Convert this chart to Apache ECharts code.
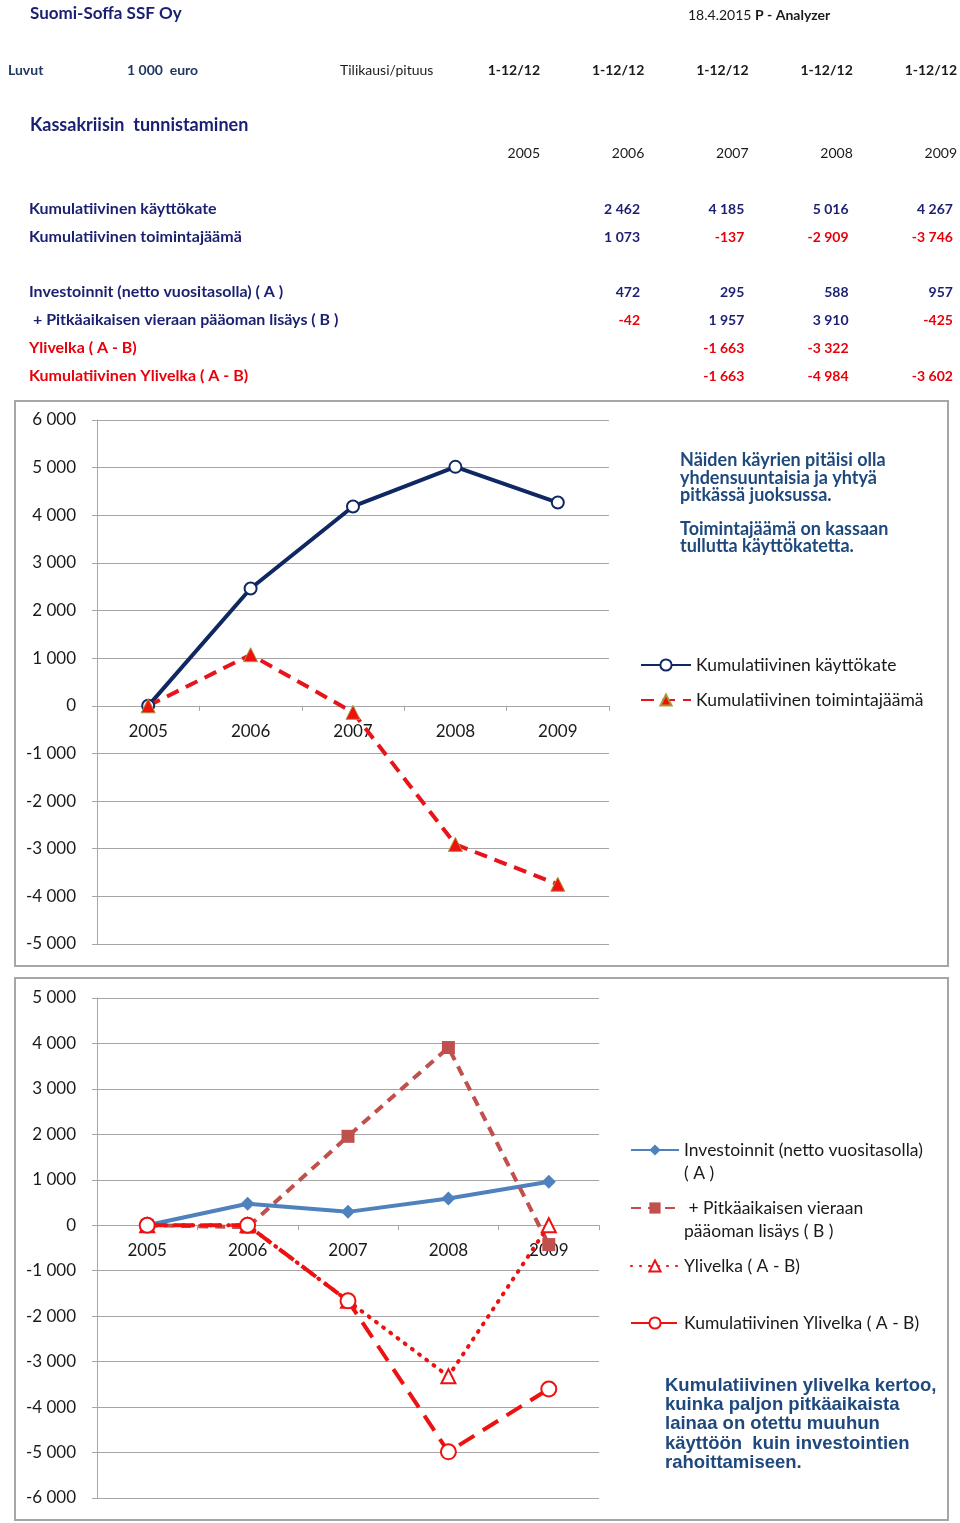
<!DOCTYPE html>
<html>
<head>
<meta charset="utf-8">
<script src="https://cdn.jsdelivr.net/npm/echarts@6/dist/echarts.min.js"></script>
<style>
html,body{margin:0;padding:0;background:#fff;}
#chart{width:960px;height:1523px;}
</style>
</head>
<body>
<div id="chart"></div>
<script>
// ---- data ----
const years = ['2005', '2006', '2007', '2008', '2009'];
const periods = ['1-12/12', '1-12/12', '1-12/12', '1-12/12', '1-12/12'];
const kayttokate = [0, 2462, 4185, 5016, 4267];
const toimintajaama = [0, 1073, -137, -2909, -3746];
const investoinnit = [0, 472, 295, 588, 957];
const pitkaaikainen = [0, -42, 1957, 3910, -425];
const ylivelka = [0, 0, -1663, -3322, 0];
const kumYlivelka = [0, 0, -1663, -4984, -3602];
const yTicks1 = [-5000, 6000, 1000];
const yTicks2 = [-6000, 5000, 1000];

const N1 = 'Kumulatiivinen käyttökate';
const N2 = 'Kumulatiivinen toimintajäämä';
const N3 = 'Investoinnit (netto vuositasolla) ( A )';
const N4 = ' + Pitkäaikaisen vieraan pääoman lisäys ( B )';
const N5 = 'Ylivelka ( A - B)';
const N6 = 'Kumulatiivinen Ylivelka ( A - B)';

const NAVY = '#1a1f71';
const RED = '#e8000b';
const NOTE = '#1f497d';
const GRAY = '#a6a6a6';
const FONT = 'Lato, "Open Sans", sans-serif';

function fmt(v) {
  const s = Math.abs(v).toString().replace(/\B(?=(\d{3})+(?!\d))/g, ' ');
  return (v < 0 ? '-' : '') + s;
}

const chart = echarts.init(document.getElementById('chart'), null, {renderer: 'canvas'});

// ---- header / table as graphic text ----
const g = [];
function txt(x, y, text, opt) {
  g.push({
    type: 'text', x: x, y: y, silent: true,
    style: Object.assign({text: text, fontFamily: FONT, fontSize: 14, fill: '#1a1a1a',
      verticalAlign: 'middle', align: 'left'}, opt || {})
  });
}
txt(30, 14, 'Suomi-Soffa SSF Oy', {fontSize: 17, fontWeight: 'bold', fill: NAVY});
txt(688, 15, '{a|18.4.2015} {b|P - Analyzer}', {
  rich: {a: {fontFamily: FONT, fontSize: 14, fill: '#1a1a1a'},
         b: {fontFamily: FONT, fontSize: 14, fontWeight: 'bold', fill: '#1a1a1a'}}
});
txt(8, 70, 'Luvut', {fontWeight: 'bold', fill: '#203864'});
txt(127, 70, '1 000  euro', {fontWeight: 'bold', fill: '#203864'});
txt(340, 70, 'Tilikausi/pituus', {fill: '#1a1a1a'});
periods.forEach((p, i) => txt(540 + i * 104.25, 70, p, {align: 'right', fontWeight: 'bold'}));
txt(30, 125, 'Kassakriisin  tunnistaminen', {fontSize: 18, fontWeight: 'bold', fill: NAVY});
years.forEach((y, i) => txt(540 + i * 104.25, 153, y, {align: 'right'}));

const rows = [
  [N1, kayttokate, 209, NAVY],
  [N2, toimintajaama, 237, NAVY],
  [N3, investoinnit, 292, NAVY],
  [N4, pitkaaikainen, 320, NAVY],
  [N5, ylivelka, 348, RED],
  [N6, kumYlivelka, 376, RED]
];
rows.forEach(r => {
  const label = r[0].replace(/^ \+ /, '+ ');
  txt(label === r[0] ? 29 : 33, r[2], label, {fontSize: 16, fontWeight: 'bold', fill: r[3]});
  for (let i = 1; i < r[1].length; i++) {
    const v = r[1][i];
    if (v === 0) continue;
    txt(640 + (i - 1) * 104.3, r[2], fmt(v), {align: 'right', fontWeight: 'bold', fill: v < 0 ? RED : NAVY});
  }
});

// chart boxes
g.push({type: 'rect', z: -10, silent: true, shape: {x: 15, y: 401, width: 933, height: 565},
  style: {fill: 'none', stroke: GRAY, lineWidth: 2}});
g.push({type: 'rect', z: -10, silent: true, shape: {x: 15, y: 978, width: 933, height: 542},
  style: {fill: 'none', stroke: GRAY, lineWidth: 2}});

// notes
g.push({type: 'text', x: 680, y: 452, silent: true, style: {
  text: 'Näiden käyrien pitäisi olla\nyhdensuuntaisia ja yhtyä\npitkässä juoksussa.\n\nToimintajäämä on kassaan\ntullutta käyttökatetta.',
  fontFamily: FONT, fontSize: 18, fontWeight: 'bold', fill: NOTE, lineHeight: 17.2, verticalAlign: 'top'}});
g.push({type: 'text', x: 665, y: 1376, silent: true, style: {
  text: 'Kumulatiivinen ylivelka kertoo,\nkuinka paljon pitkäaikaista\nlainaa on otettu muuhun\nkäyttöön  kuin investointien\nrahoittamiseen.',
  fontFamily: '"Liberation Sans", Arial, sans-serif', fontSize: 18.5, fontWeight: 'bold', fill: NOTE,
  lineHeight: 19.3, verticalAlign: 'top'}});

// ---- axes ----
const grids = [
  {left: 97, top: 420, width: 512, height: 524},
  {left: 97, top: 998, width: 502, height: 500}
];
function xAx(gi, t) {
  // place the category axis on the zero line of its value axis
  const zeroFromBottom = grids[gi].height * (0 - t[0]) / (t[1] - t[0]);
  return {
    type: 'category', gridIndex: gi, data: years, boundaryGap: true,
    position: 'bottom', offset: -zeroFromBottom,
    axisLine: {onZero: false, lineStyle: {color: GRAY, width: 1}},
    axisTick: {show: true, length: 5, lineStyle: {color: GRAY}},
    axisLabel: {fontFamily: FONT, fontSize: 17, color: '#1a1a1a', margin: 17},
    splitLine: {show: false}
  };
}
function yAx(gi, t) {
  return {
    type: 'value', gridIndex: gi, min: t[0], max: t[1], interval: t[2],
    axisLine: {show: true, lineStyle: {color: GRAY, width: 1}},
    axisTick: {show: true, length: 5, lineStyle: {color: GRAY}},
    axisLabel: {fontFamily: FONT, fontSize: 17, color: '#1a1a1a', margin: 21, formatter: v => fmt(v)},
    splitLine: {show: true, lineStyle: {color: GRAY, width: 1}}
  };
}

// two-line legend entries get an empty first line so the icon lines up with the first text line
const legTxt = {};
legTxt[N3] = '\nInvestoinnit (netto vuositasolla)\n( A )';
legTxt[N4] = '\n + Pitkäaikaisen vieraan\npääoman lisäys ( B )';
function leg(name, left, top, w) {
  return {
    data: [name], left: left, top: top, orient: 'vertical', padding: 0,
    itemWidth: w, itemHeight: 14, selectedMode: false,
    formatter: n => legTxt[n] || n,
    textStyle: {fontFamily: FONT, fontSize: 17.5, color: '#1a1a1a', lineHeight: 23}
  };
}

const option = {
  animation: false,
  backgroundColor: '#fff',
  graphic: g,
  grid: grids,
  xAxis: [xAx(0, yTicks1), xAx(1, yTicks2)],
  yAxis: [yAx(0, yTicks1), yAx(1, yTicks2)],
  legend: [
    leg(N1, 640, 653.5, 50),
    leg(N2, 640, 688.5, 50),
    leg(N3, 630, 1115.5, 48),
    leg(N4, 630, 1173.5, 48),
    leg(N5, 630, 1254.5, 48),
    leg(N6, 630, 1311.5, 48)
  ],
  series: [
    {name: N1, type: 'line', xAxisIndex: 0, yAxisIndex: 0, data: kayttokate,
      color: '#0f2862', symbol: 'emptyCircle', symbolSize: 12,
      itemStyle: {color: '#0f2862', borderWidth: 1.6},
      lineStyle: {color: '#0f2862', width: 4}},
    {name: N2, type: 'line', xAxisIndex: 0, yAxisIndex: 0, data: toimintajaama,
      color: '#e8141b', symbol: 'triangle', symbolSize: 14,
      itemStyle: {color: '#f01010', borderColor: '#a89a3a', borderWidth: 1},
      lineStyle: {color: '#e8141b', width: 4, type: [13, 8]}},
    {name: N3, type: 'line', xAxisIndex: 1, yAxisIndex: 1, data: investoinnit,
      color: '#4f81bd', symbol: 'diamond', symbolSize: 14,
      itemStyle: {color: '#4f81bd'},
      lineStyle: {color: '#4f81bd', width: 4}},
    {name: N4, type: 'line', xAxisIndex: 1, yAxisIndex: 1, data: pitkaaikainen,
      color: '#c0504d', symbol: 'rect', symbolSize: 13,
      itemStyle: {color: '#c0504d'},
      lineStyle: {color: '#c0504d', width: 4, type: [10, 7]}},
    {name: N5, type: 'line', xAxisIndex: 1, yAxisIndex: 1, data: ylivelka,
      color: '#ee1111', symbol: 'emptyTriangle', symbolSize: 14,
      itemStyle: {color: '#ee1111', borderWidth: 1.5},
      lineStyle: {color: '#ee1111', width: 4, type: [1, 8], cap: 'round'}},
    {name: N6, type: 'line', xAxisIndex: 1, yAxisIndex: 1, data: kumYlivelka,
      color: '#ee1111', symbol: 'emptyCircle', symbolSize: 15,
      itemStyle: {color: '#ee1111', borderWidth: 1.6},
      lineStyle: {color: '#ee1111', width: 4, type: [18, 10]}}
  ]
};
chart.setOption(option);
</script>
</body>
</html>
